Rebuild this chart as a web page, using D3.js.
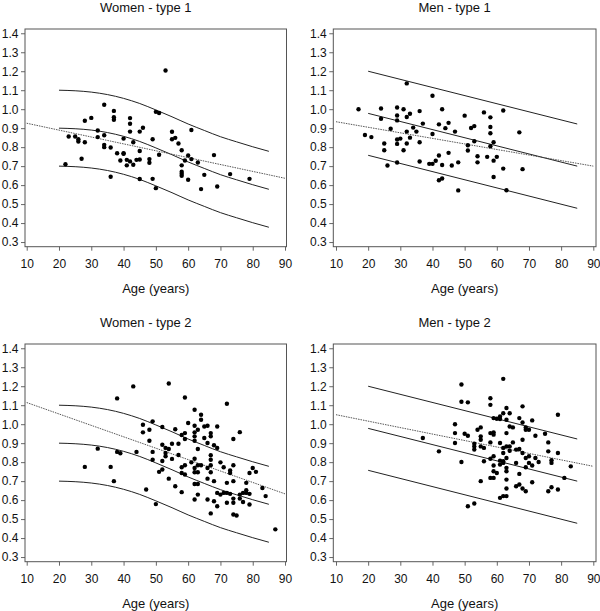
<!DOCTYPE html>
<html><head><meta charset="utf-8">
<script src="https://cdn.jsdelivr.net/npm/d3@7/dist/d3.min.js"></script>
<style>body{margin:0;background:#fff} text{font-family:"Liberation Sans",Arial,Helvetica,sans-serif}</style>
</head><body><svg id="c" width="600" height="611"></svg>
<script>
// ---------- data ----------
const panelTitles = ["Women - type 1", "Men - type 1", "Women - type 2", "Men - type 2"];
const xTicks = [10, 20, 30, 40, 50, 60, 70, 80, 90];
const yTicks = [0.3, 0.4, 0.5, 0.6, 0.7, 0.8, 0.9, 1.0, 1.1, 1.2, 1.3, 1.4];
const xLabel = "Age (years)";

// reference curves (women: curved, men: straight)
const womenCurveAge = [20, 25, 30, 35, 40, 45, 50, 55, 60, 65, 70, 75, 80, 85];
const womenUpper  = [1.100, 1.097, 1.090, 1.077, 1.057, 1.030, 0.996, 0.960, 0.922, 0.888, 0.855, 0.828, 0.802, 0.778];
const womenMiddle = [0.900, 0.897, 0.890, 0.877, 0.857, 0.830, 0.796, 0.760, 0.722, 0.688, 0.655, 0.628, 0.602, 0.578];
const womenLower  = [0.700, 0.697, 0.690, 0.677, 0.657, 0.630, 0.596, 0.560, 0.522, 0.488, 0.455, 0.428, 0.402, 0.378];
const menLineAge = [20, 85];
const menUpper  = [1.200, 0.922];
const menMiddle = [0.978, 0.700];
const menLower  = [0.757, 0.478];

// dotted regression lines
const regAge = [10, 90];
const regW1 = [0.926, 0.636];
const regM1 = [0.934, 0.700];
const regW2 = [1.114, 0.633];
const regM2 = [1.050, 0.778];

// scatter points
const w1Age = [22,23,25,26,26,27,28,28,30,32,32,34,34,34,34,36,36,37,37,37,38,39,40,40,40,41,41,42,42,42,42,43,43,44,45,45,45,45,46,48,48,49,49,50,50,51,51,53,55,55,56,57,58,58,58,58,58,59,60,60,61,61,63,64,65,68,69,73,79];
const w1Val = [0.710,0.856,0.856,0.842,0.830,0.739,0.939,0.826,0.954,0.888,0.853,1.023,0.863,0.812,0.800,0.644,0.798,0.991,0.958,0.944,0.768,0.730,0.845,0.768,0.765,0.733,0.704,0.953,0.923,0.882,0.725,0.826,0.707,0.733,0.882,0.780,0.735,0.632,0.902,0.737,0.718,0.842,0.633,0.986,0.584,0.980,0.760,1.204,0.881,0.842,0.849,0.819,0.784,0.704,0.670,0.660,0.649,0.730,0.756,0.628,0.890,0.737,0.719,0.579,0.654,0.758,0.593,0.658,0.633];

const m1Age = [17,19,21,24,24,25,25,26,27,29,29,29,29,29,29,30,31,31,32,32,32,32,33,33,34,35,36,36,36,37,39,40,40,40,41,42,42,42,43,43,43,44,45,45,46,47,48,48,50,51,51,52,53,53,54,54,56,57,58,58,58,58,59,59,59,60,62,62,63,67,68];
const m1Val = [1.000,0.864,0.853,1.004,0.950,0.819,0.784,0.703,0.897,1.009,0.967,0.941,0.840,0.817,0.719,0.845,1.000,0.784,1.136,0.959,0.882,0.819,0.976,0.850,0.903,0.882,0.990,0.826,0.724,0.924,0.712,1.071,0.869,0.712,0.728,0.920,0.756,0.626,0.635,1.000,0.706,0.900,0.928,0.770,0.703,0.882,0.720,0.572,0.966,0.810,0.782,0.901,0.911,0.831,0.752,0.720,0.983,0.749,0.957,0.906,0.873,0.805,0.826,0.729,0.643,0.749,0.993,0.687,0.573,0.878,0.684];

const w2Age = [28,32,36,37,38,38,39,43,44,47,48,48,46,46,49,49,49,50,51,52,52,52,52,53,53,53,54,54,54,55,55,56,56,57,57,58,58,58,58,59,59,59,59,59,60,61,62,62,62,62,62,62,62,62,62,62,63,63,63,63,63,63,64,64,64,65,65,66,66,66,66,66,67,67,67,67,67,67,67,68,68,68,69,69,69,69,70,70,71,71,72,72,72,72,73,73,73,74,74,74,74,74,74,75,76,76,76,77,77,78,78,78,79,79,79,80,81,83,84,87];
const w2Val = [0.775,0.871,0.775,0.700,1.136,0.854,0.847,1.199,0.854,0.656,0.971,0.913,0.997,0.957,1.015,0.854,0.813,0.579,0.749,0.985,0.892,0.806,0.761,0.875,0.848,0.831,1.214,0.869,0.713,0.897,0.817,0.973,0.673,0.897,0.838,0.943,0.773,0.743,0.642,1.141,0.953,0.922,0.784,0.735,1.006,0.799,1.076,0.992,0.957,0.936,0.913,0.818,0.769,0.747,0.685,0.603,0.971,0.869,0.784,0.747,0.685,0.629,1.050,1.023,0.784,0.988,0.927,0.992,0.901,0.713,0.603,0.769,0.953,0.936,0.836,0.813,0.784,0.747,0.530,0.889,0.700,0.594,0.988,0.875,0.638,0.568,0.799,0.629,0.773,0.638,1.108,0.691,0.638,0.586,0.756,0.743,0.633,0.922,0.784,0.700,0.608,0.586,0.524,0.519,0.958,0.629,0.608,0.638,0.590,0.691,0.652,0.638,0.743,0.633,0.577,0.769,0.749,0.664,0.621,0.446];

const m2Age = [37,42,47,47,47,49,49,49,50,51,51,51,53,53,53,53,54,55,55,55,55,55,56,56,58,58,58,58,58,58,59,59,59,59,59,59,59,60,60,61,61,61,61,61,61,62,62,62,62,62,62,62,63,63,63,63,63,63,63,63,63,63,64,64,64,64,65,65,66,66,66,67,67,67,67,68,68,68,68,68,69,69,69,69,69,70,70,70,71,71,71,72,72,73,75,76,76,76,77,77,77,79,79,79,81,83];
const m2Val = [0.927,0.857,1.000,0.953,0.901,1.209,1.118,0.801,0.950,1.115,0.939,0.568,0.897,0.883,0.866,0.582,0.971,0.983,0.936,0.918,0.883,0.700,0.875,0.805,1.137,1.102,0.953,0.904,0.818,0.717,1.032,0.957,0.945,0.831,0.782,0.752,0.717,1.029,0.743,1.027,1.041,0.901,0.808,0.787,0.612,1.058,0.875,0.848,0.805,0.796,0.621,1.239,1.085,1.023,0.953,0.883,0.822,0.770,0.752,0.708,0.661,0.621,1.058,0.988,0.883,0.860,0.983,0.904,0.796,0.866,0.673,1.032,0.869,0.738,0.682,1.094,1.009,0.918,0.848,0.661,0.983,0.971,0.822,0.773,0.647,0.971,0.831,0.796,1.020,0.782,0.694,0.939,0.822,0.801,0.950,0.904,0.857,0.647,0.810,0.796,0.668,1.050,0.848,0.656,0.717,0.778];

// ---------- drawing ----------
const svg = d3.select("#c");
const boxes = [
  {x0: 25,    x1: 286.5, y0: 29,  y1: 246.7, dx: [9.47, 90.46]},
  {x0: 333.3, x1: 596,   y0: 29,  y1: 246.7, dx: [9.16, 90.84]},
  {x0: 25,    x1: 286.5, y0: 344, y1: 561.7, dx: [9.47, 90.46]},
  {x0: 333.3, x1: 596,   y0: 344, y1: 561.7, dx: [9.16, 90.84]}
];
const panels = [
  {ages: w1Age, vals: w1Val, curveX: womenCurveAge, curves: [womenUpper, womenMiddle, womenLower], reg: regW1},
  {ages: m1Age, vals: m1Val, curveX: menLineAge, curves: [menUpper, menMiddle, menLower], reg: regM1},
  {ages: w2Age, vals: w2Val, curveX: womenCurveAge, curves: [womenUpper, womenMiddle, womenLower], reg: regW2},
  {ages: m2Age, vals: m2Val, curveX: menLineAge, curves: [menUpper, menMiddle, menLower], reg: regM2}
];

panels.forEach((p, i) => {
  const b = boxes[i];
  const x = d3.scaleLinear().domain(b.dx).range([b.x0, b.x1]);
  const y = d3.scaleLinear().domain([0.2755, 1.4225]).range([b.y1, b.y0]);
  const g = svg.append("g");

  // title
  g.append("text").attr("x", (b.x0 + b.x1) / 2 - 10).attr("y", b.y0 - 17)
    .attr("text-anchor", "middle").attr("font-size", 13).attr("fill", "#111")
    .text(panelTitles[i]);
  // x label
  g.append("text").attr("x", (b.x0 + b.x1) / 2).attr("y", b.y1 + 46.5)
    .attr("text-anchor", "middle").attr("font-size", 13).attr("fill", "#111")
    .text(xLabel);

  // axes
  const ax = g.append("g").attr("transform", `translate(0,${b.y1})`)
    .call(d3.axisBottom(x).tickValues(xTicks).tickSize(4).tickPadding(9).tickFormat(d3.format("d")));
  const ay = g.append("g").attr("transform", `translate(${b.x0},0)`)
    .call(d3.axisLeft(y).tickValues(yTicks).tickSize(4).tickPadding(2.5).tickFormat(d3.format(".1f")));
  [ax, ay].forEach(a => {
    a.select(".domain").remove();
    a.selectAll(".tick line").attr("stroke", "#666");
    a.selectAll(".tick text").attr("font-size", 12).attr("fill", "#111")
      .attr("font-family", '"Liberation Sans",Arial,sans-serif');
  });

  // frame
  g.append("rect").attr("x", b.x0).attr("y", b.y0)
    .attr("width", b.x1 - b.x0).attr("height", b.y1 - b.y0)
    .attr("fill", "none").attr("stroke", "#555").attr("stroke-width", 1);

  // reference curves
  const line = d3.line().x(d => x(d[0])).y(d => y(d[1])).curve(d3.curveMonotoneX);
  p.curves.forEach(c => {
    g.append("path").datum(p.curveX.map((a, k) => [a, c[k]]))
      .attr("d", line).attr("fill", "none").attr("stroke", "#222").attr("stroke-width", 1);
  });
  // dotted regression
  g.append("path").datum(regAge.map((a, k) => [a, p.reg[k]]))
    .attr("d", d3.line().x(d => x(d[0])).y(d => y(d[1])))
    .attr("fill", "none").attr("stroke", "#444").attr("stroke-width", 0.9)
    .attr("stroke-dasharray", "1.5,1");

  // points
  g.selectAll("circle.pt").data(p.ages.map((a, k) => [a, p.vals[k]])).enter()
    .append("circle").attr("class", "pt")
    .attr("cx", d => x(d[0])).attr("cy", d => y(d[1])).attr("r", 2.2).attr("fill", "#000");
});
</script></body></html>
